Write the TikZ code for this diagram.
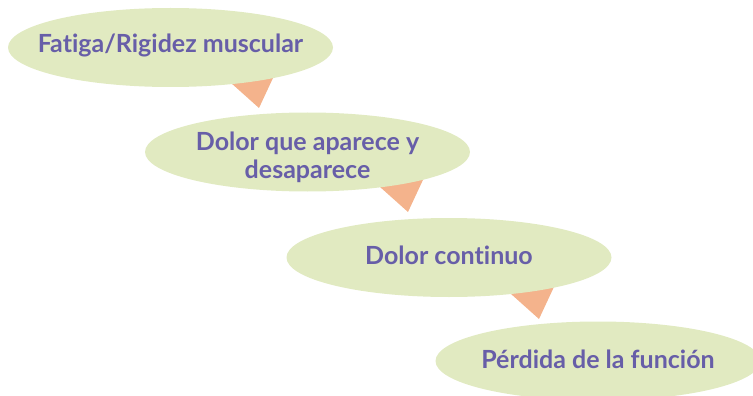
\documentclass[tikz,border=0pt]{standalone}
\usepackage{fontspec}
\setmainfont[Ligatures=NoCommon]{Lato}
\usetikzlibrary{shapes.geometric,calc}
\definecolor{elfill}{RGB}{225,234,193}
\definecolor{tricol}{RGB}{244,179,140}
\definecolor{txtcol}{RGB}{103,94,168}
\tikzset{
  stepell/.style={ellipse, fill=elfill, draw=none, minimum width=325pt, minimum height=79pt, inner sep=0pt},
  steptext/.style={anchor=base, inner sep=0pt, text=txtcol, font=\bfseries\fontsize{25}{30}\selectfont},
  tri/.style={fill=tricol, draw=none}
}
\begin{document}
\begin{tikzpicture}[x=1pt,y=-1pt]
\useasboundingbox (0,0) rectangle (753,396);
\coordinate (t1) at (259,108);
\coordinate (t2) at (408,212);
\coordinate (t3) at (539,319);
\foreach \t in {t1,t2,t3}{
  \fill[tri] ($(\t)+(-47,-42)$) -- (\t) -- ($(\t)+(21,-45)$) -- cycle;
}
\begin{scope}
\clip (0,0) rectangle (753,396);
\node[stepell] (e1) at (170.5,47.5) {};
\node[stepell] (e2) at (307.5,152) {};
\node[stepell] (e3) at (449,257.5) {};
\node[stepell] (e4) at (598,361) {};
\end{scope}
\node[steptext] (l1) at ($(e1.center)+(0,5.5)$) {Fatiga/Rigidez muscular};
\node[steptext] (l2a) at ($(e2.center)+(0,-2)$) {Dolor que aparece y};
\node[steptext] (l2b) at ($(e2.center)+(0,26)$) {desaparece};
\node[steptext] (l3) at ($(e3.center)+(0,6.5)$) {Dolor continuo};
\node[steptext] (l4) at ($(e4.center)+(0,7)$) {Pérdida de la función};
\end{tikzpicture}
\end{document}
